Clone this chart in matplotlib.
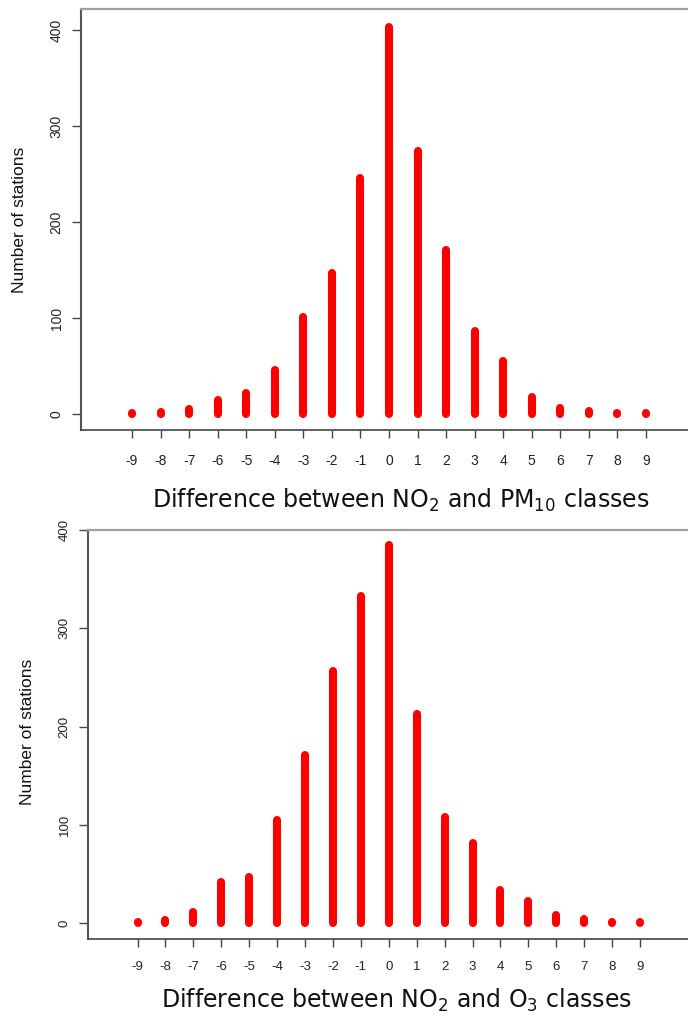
import matplotlib
matplotlib.use("Agg")
import matplotlib.pyplot as plt

# ---- data ----
diff_classes = [-9, -8, -7, -6, -5, -4, -3, -2, -1, 0, 1, 2, 3, 4, 5, 6, 7, 8, 9]
tick_labels = [str(v) for v in diff_classes]
no2_pm10_counts = [1, 2, 5, 15, 22, 46, 101, 147, 246, 403, 274, 171, 86, 55, 18, 6, 3, 1, 1]
no2_o3_counts = [1, 3, 11, 42, 47, 105, 171, 256, 333, 385, 213, 108, 81, 34, 22, 8, 4, 1, 1]
y_ticks = [0, 100, 200, 300, 400]
xlabel_top = r"Difference between NO$_2$ and PM$_{10}$ classes"
xlabel_bottom = r"Difference between NO$_2$ and O$_3$ classes"
ylabel = "Number of stations"

W, H = 688, 1015
DPI = 100
fig = plt.figure(figsize=(W / DPI, H / DPI), dpi=DPI)
fig.patch.set_facecolor("white")
plt.rcParams['mathtext.fontset'] = 'dejavusans'


def px_axes(left, top, right, bottom):
    return fig.add_axes([left / W, 1 - bottom / H, (right - left) / W, (bottom - top) / H])


def draw_panel(ax, counts, xlim, ylim, tick_fs, xpad):
    lc = ax.vlines(diff_classes, 0, counts, colors="#ff0000", linewidth=5.8)
    lc.set_capstyle("round")
    ax.set_xlim(*xlim)
    ax.set_ylim(*ylim)
    ax.set_xticks(diff_classes)
    ax.set_xticklabels(tick_labels, fontsize=tick_fs, family="Liberation Sans", color="#222222")
    ax.set_yticks(y_ticks)
    ax.set_yticklabels([str(v) for v in y_ticks], fontsize=tick_fs, family="Liberation Sans",
                       color="#222222", rotation=90, va="center")
    ax.tick_params(axis="x", length=6.0, width=1.0, color="#444444", pad=xpad)
    ax.tick_params(axis="y", length=6.5, width=1.0, color="#444444", pad=6)
    ax.spines["top"].set_color("#a0a0a0")
    ax.spines["top"].set_linewidth(1.6)
    ax.spines["left"].set_color("#555555")
    ax.spines["left"].set_linewidth(1.5)
    ax.spines["bottom"].set_color("#444444")
    ax.spines["bottom"].set_linewidth(1.2)
    ax.spines["right"].set_visible(False)
    ax.set_facecolor("white")


# top panel
ax1 = px_axes(81, 9, 700, 430)
sx1 = (646 - 132) / 18.0
sy1 = (414 - 30) / 400.0
draw_panel(ax1, no2_pm10_counts,
           (-9 - (132 - 81) / sx1, 9 + (700 - 646) / sx1),
           (-(430 - 414) / sy1, (414 - 9) / sy1), 10, 11)

# bottom panel
ax2 = px_axes(88, 530, 700, 939)
sx2 = (640 - 137.5) / 18.0
sy2 = (923 - 530) / 400.0
draw_panel(ax2, no2_o3_counts,
           (-9 - (137.5 - 88) / sx2, 9 + (700 - 640) / sx2),
           (-(939 - 923) / sy2, (923 - 530) / sy2), 9.5, 9.5)

# axis titles
fig.text(401 / W, 1 - 500 / H, xlabel_top, ha="center", va="center",
         fontsize=17, family="DejaVu Sans", color="#111111")
fig.text(397 / W, 1 - 1000 / H, xlabel_bottom, ha="center", va="center",
         fontsize=17, family="DejaVu Sans", color="#111111")
fig.text(20 / W, 1 - 220 / H, ylabel, ha="center", va="center", rotation=90,
         fontsize=12.5, family="Liberation Sans", color="#111111")
fig.text(28 / W, 1 - 732 / H, ylabel, ha="center", va="center", rotation=90,
         fontsize=12.5, family="Liberation Sans", color="#111111")

fig.savefig("out.png", dpi=DPI, facecolor="white")
